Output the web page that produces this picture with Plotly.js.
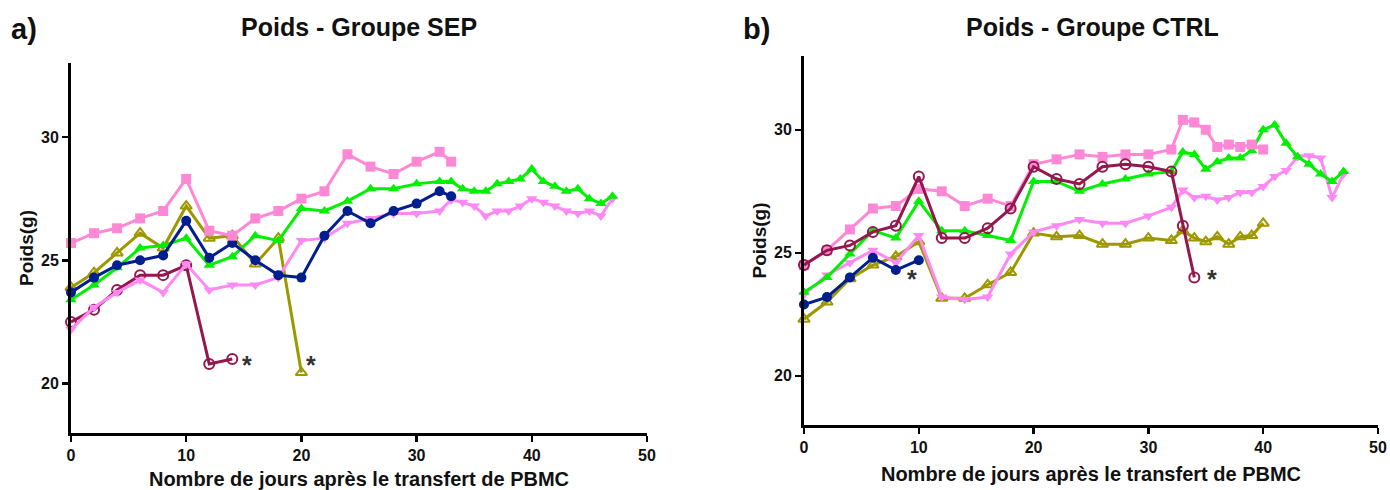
<!DOCTYPE html>
<html><head><meta charset="utf-8">
<script src="https://cdn.plot.ly/plotly-3.0.1.min.js"></script>
<style>body{margin:0;background:#fff}#chart{width:1390px;height:490px}</style>
</head><body><div id="chart"></div>
<script>
// ---------- Data: Groupe SEP (panel a) ----------
const sepSquareDays = [0,2,4,6,8,10,12,14,16,18,20,22,24,26,28,30,32,33];
const sepSquare     = [25.7,26.1,26.3,26.7,27.0,28.3,26.2,26.0,26.7,27.0,27.5,27.8,29.3,28.8,28.5,29.0,29.4,29.0];
const sepGreenDays  = [0,2,4,6,8,10,12,14,16,18,20,22,24,26,28,30,32,33,34,35,36,37,38,39,40,41,42,43,44,45,46,47];
const sepGreen      = [23.4,24.0,24.7,25.5,25.6,25.9,24.8,25.15,26.0,25.8,27.1,27.0,27.4,27.9,27.9,28.1,28.2,28.2,27.9,27.8,27.8,28.1,28.2,28.3,28.7,28.2,28.0,27.8,27.9,27.5,27.3,27.6];
const sepNavyDays   = [0,2,4,6,8,10,12,14,16,18,20,22,24,26,28,30,32,33];
const sepNavy       = [23.7,24.3,24.8,25.0,25.2,26.6,25.1,25.7,25.0,24.4,24.3,26.0,27.0,26.5,27.0,27.3,27.8,27.6];
const sepOliveDays  = [0,2,4,6,8,10,12,14,16,18,20];
const sepOlive      = [23.9,24.5,25.3,26.1,25.5,27.2,25.9,26.0,24.85,25.9,20.45];
const sepMaroonDays = [0,2,4,6,8,10,12,14];
const sepMaroon     = [22.5,23.0,23.8,24.4,24.4,24.8,20.8,21.0];
const sepPinkDays   = [0,2,4,6,8,10,12,14,16,18,20,22,24,26,28,30,32,33,34,35,36,37,38,39,40,41,42,43,44,45,46,47];
const sepPink       = [22.2,23.1,23.7,24.2,23.7,24.85,23.8,24.0,24.0,24.3,25.8,25.9,26.5,26.7,26.9,26.9,27.0,27.45,27.35,27.2,26.8,27.0,27.0,27.2,27.5,27.35,27.2,27.0,26.9,27.0,26.8,27.5];

// ---------- Data: Groupe CTRL (panel b) ----------
const ctrlSquareDays = [0,2,4,6,8,10,12,14,16,18,20,22,24,26,28,30,32,33,34,35,36,37,38,39,40];
const ctrlSquare     = [24.5,25.1,25.95,26.8,26.9,27.6,27.5,26.9,27.2,26.9,28.6,28.8,29.0,28.9,29.0,29.0,29.2,30.4,30.3,30.0,29.3,29.4,29.3,29.4,29.2];
const ctrlGreenDays  = [0,2,4,6,8,10,12,14,16,18,20,22,24,26,28,30,32,33,34,35,36,37,38,39,40,41,42,43,44,45,46,47];
const ctrlGreen      = [23.4,24.0,24.95,25.9,25.6,27.1,25.9,25.9,25.7,25.5,27.9,27.9,27.5,27.8,28.0,28.2,28.3,29.1,29.0,28.4,28.7,28.85,28.85,29.15,30.0,30.2,29.45,28.9,28.6,28.2,27.9,28.3];
const ctrlMaroonDays = [0,2,4,6,8,10,12,14,16,18,20,22,24,26,28,30,32,33,34];
const ctrlMaroon     = [24.5,25.1,25.3,25.85,26.1,28.1,25.6,25.6,26.0,26.8,28.5,28.0,27.8,28.5,28.6,28.5,28.3,26.1,24.0];
const ctrlNavyDays   = [0,2,4,6,8,10];
const ctrlNavy       = [22.9,23.2,24.0,24.8,24.3,24.7];
const ctrlOliveDays  = [0,2,4,6,8,10,12,14,16,18,20,22,24,26,28,30,32,33,34,35,36,37,38,39,40];
const ctrlOlive      = [22.3,23.0,23.95,24.5,24.85,25.45,23.15,23.15,23.7,24.2,25.8,25.65,25.7,25.35,25.35,25.6,25.5,25.9,25.6,25.45,25.65,25.35,25.65,25.7,26.2];
const ctrlPinkDays   = [0,2,4,6,8,10,12,14,16,18,20,22,24,26,28,30,32,33,34,35,36,37,38,39,40,41,42,43,44,45,46,47];
const ctrlPink       = [23.3,24.1,24.6,25.1,24.6,25.7,23.2,23.1,23.2,24.95,25.85,26.1,26.35,26.2,26.2,26.5,26.85,27.55,27.25,27.3,27.15,27.25,27.45,27.45,27.7,28.1,28.35,28.9,28.95,28.85,27.25,28.2];

// ---------- Text & ticks ----------
const panelLabels = ['a)', 'b)'];
const panelTitles = ['Poids - Groupe SEP', 'Poids - Groupe CTRL'];
const xTitle = 'Nombre de jours après le transfert de PBMC';
const yTitle = 'Poids(g)';
const xTicks = [0, 10, 20, 30, 40, 50];
const xTickLabels = ['0', '10', '20', '30', '40', '50'];
const yTicks = [20, 25, 30];
const yTickLabels = ['20', '25', '30'];
const starsSEP = [[15.3, 20.75], [20.8, 20.75]];
const starsCTRL = [[9.4, 23.95], [35.5, 23.95]];

// ---------- Styles ----------
const C = {square:'#FF88D6', green:'#00F000', navy:'#001E8F', olive:'#9E9800', maroon:'#94174E', pink:'#FF88F4'};
function tr(x, y, color, symbol, size, xa, ya, lw) {
  return {x:x, y:y, xaxis:xa, yaxis:ya, type:'scatter', mode:'lines+markers',
    line:{color:color, width:3}, cliponaxis:false,
    marker:{color:color, symbol:symbol, size:size, line:{color:color, width:lw||0}},
    showlegend:false, hoverinfo:'x+y'};
}
const traces = [
  tr(sepOliveDays, sepOlive, C.olive, 'triangle-up-open', 10, 'x', 'y', 2),
  tr(sepMaroonDays, sepMaroon, C.maroon, 'circle-open', 10, 'x', 'y', 2),
  tr(sepPinkDays, sepPink, C.pink, 'triangle-down', 10, 'x', 'y'),
  tr(sepGreenDays, sepGreen, C.green, 'triangle-up', 10, 'x', 'y'),
  tr(sepNavyDays, sepNavy, C.navy, 'circle', 10, 'x', 'y'),
  tr(sepSquareDays, sepSquare, C.square, 'square', 10, 'x', 'y'),
  tr(ctrlOliveDays, ctrlOlive, C.olive, 'triangle-up-open', 10, 'x2', 'y2', 2),
  tr(ctrlPinkDays, ctrlPink, C.pink, 'triangle-down', 10, 'x2', 'y2'),
  tr(ctrlGreenDays, ctrlGreen, C.green, 'triangle-up', 10, 'x2', 'y2'),
  tr(ctrlNavyDays, ctrlNavy, C.navy, 'circle', 10, 'x2', 'y2'),
  tr(ctrlSquareDays, ctrlSquare, C.square, 'square', 10, 'x2', 'y2'),
  tr(ctrlMaroonDays, ctrlMaroon, C.maroon, 'circle-open', 10, 'x2', 'y2', 2)
];

const FONT = 'Liberation Sans, Arial, sans-serif';
const bold = a => a.map(s => '<b>' + s + '</b>');
function xax(domain, anchor) {
  return {domain:domain, anchor:anchor, range:[0,50], tickmode:'array', tickvals:xTicks, ticktext:bold(xTickLabels),
    showline:true, linecolor:'#000', linewidth:3, ticks:'outside', ticklen:6, tickwidth:2.5, tickcolor:'#000',
    showgrid:false, zeroline:false, tickfont:{family:FONT, size:16, color:'#111', weight:'bold'},
    title:{text:'<b>' + xTitle + '</b>', font:{family:FONT, size:20, color:'#111'}, standoff:12}};
}
function yax(domain, anchor) {
  return {domain:domain, anchor:anchor, range:[18,33], tickmode:'array', tickvals:yTicks, ticktext:bold(yTickLabels),
    showline:true, linecolor:'#000', linewidth:3, ticks:'outside', ticklen:6, tickwidth:2.5, tickcolor:'#000',
    showgrid:false, zeroline:false, tickfont:{family:FONT, size:16, color:'#111', weight:'bold'},
    title:{text:'<b>' + yTitle + '</b>', font:{family:FONT, size:19, color:'#111'}, standoff:3}};
}
const W = 1390, H = 490;
const annotations = [];
function ann(text, x, y, size) {
  annotations.push({text:'<b>'+text+'</b>', x:x/W, y:1-y/H, xref:'paper', yref:'paper',
    showarrow:false, xanchor:'center', yanchor:'middle', font:{family:FONT, size:size, color:'#111'}});
}
ann(panelLabels[0], 24, 29, 29);
ann(panelLabels[1], 756, 29, 29);
ann(panelTitles[0], 359, 27, 25);
ann(panelTitles[1], 1092, 27, 25);
starsSEP.forEach(p => annotations.push({text:'<b>*</b>', x:p[0], y:p[1], xref:'x', yref:'y', showarrow:false,
  font:{family:FONT, size:25, color:'#333'}}));
starsCTRL.forEach(p => annotations.push({text:'<b>*</b>', x:p[0], y:p[1], xref:'x2', yref:'y2', showarrow:false,
  font:{family:FONT, size:25, color:'#333'}}));

const layout = {
  width:W, height:H, margin:{l:0, r:0, t:0, b:0}, paper_bgcolor:'#fff', plot_bgcolor:'#fff',
  xaxis: xax([71/W, 647/W], 'y'),
  yaxis: yax([1-433/H, 1-63/H], 'x'),
  xaxis2: xax([804/W, 1378/W], 'y2'),
  yaxis2: yax([1-425/H, 1-56/H], 'x2'),
  annotations: annotations, showlegend:false
};
Plotly.newPlot('chart', traces, layout, {displayModeBar:false, staticPlot:true});
</script></body></html>
